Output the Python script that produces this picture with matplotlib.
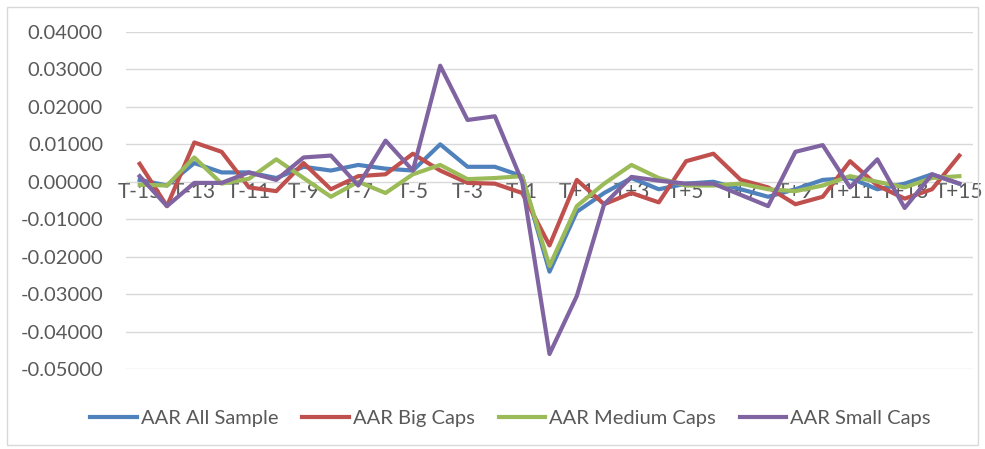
import matplotlib
matplotlib.use("Agg")
import matplotlib.pyplot as plt
from matplotlib.patches import Rectangle

labels = [f"T{i}" if i < 0 else ("T" if i == 0 else f"T+{i}") for i in range(-15, 16)]

all_sample = [0.0005, -0.0010, 0.0050, 0.0025, 0.0025, 0.0010, 0.0040, 0.0030, 0.0045, 0.0035,
              0.0030, 0.0100, 0.0040, 0.0040, 0.0015, -0.0240, -0.0080, -0.0030, 0.0010, -0.0020,
              -0.0005, 0.0000, -0.0020, -0.0040, -0.0020, 0.0005, 0.0010, -0.0020, -0.0005, 0.0020,
              -0.0005]
big_caps = [0.0048, -0.0065, 0.0105, 0.0080, -0.0015, -0.0025, 0.0050, -0.0020, 0.0015, 0.0020,
            0.0075, 0.0030, -0.0003, -0.0005, -0.0030, -0.0170, 0.0005, -0.0060, -0.0030, -0.0055,
            0.0055, 0.0075, 0.0005, -0.0015, -0.0060, -0.0040, 0.0055, -0.0010, -0.0045, -0.0020,
            0.0070]
medium_caps = [-0.0008, -0.0010, 0.0065, -0.0005, 0.0008, 0.0060, 0.0010, -0.0040, 0.0000, -0.0030,
               0.0020, 0.0045, 0.0007, 0.0010, 0.0015, -0.0225, -0.0065, -0.0005, 0.0045, 0.0010,
               -0.0010, -0.0010, -0.0005, -0.0020, -0.0025, -0.0010, 0.0015, 0.0000, -0.0015, 0.0010,
               0.0015]
small_caps = [0.0015, -0.0065, -0.0003, -0.0003, 0.0025, 0.0005, 0.0065, 0.0070, -0.0010, 0.0110,
              0.0030, 0.0310, 0.0165, 0.0175, 0.0000, -0.0460, -0.0305, -0.0060, 0.0013, 0.0003,
              -0.0005, -0.0005, -0.0035, -0.0065, 0.0080, 0.0098, -0.0015, 0.0060, -0.0070, 0.0020,
              -0.0005]

series_names = ["AAR All Sample", "AAR Big Caps", "AAR Medium Caps", "AAR Small Caps"]
series_colors = ["#4F81BD", "#C0504D", "#9BBB59", "#8064A2"]
yticks = [0.04, 0.03, 0.02, 0.01, 0.0, -0.01, -0.02, -0.03, -0.04, -0.05]

plt.rcParams['font.family'] = ['Lato', 'DejaVu Sans']

fig = plt.figure(figsize=(9.85, 4.49), dpi=100)
fig.patches.append(Rectangle((7/985, 4/449), 971/985, 438/449, transform=fig.transFigure,
                             fill=False, edgecolor="#d9d9d9", linewidth=1))
ax = fig.add_axes([126/985, 1 - 369/449, 847/985, 337/449])

x = list(range(len(labels)))
for vals, name, c in zip([all_sample, big_caps, medium_caps, small_caps], series_names, series_colors):
    ax.plot(x, vals, color=c, linewidth=3.0, label=name)

ax.set_xlim(-0.5, len(labels) - 0.5)
ax.set_ylim(-0.05, 0.04)
ax.set_yticks(yticks)
ax.set_yticklabels([f"{v:.5f}" for v in yticks])
ax.yaxis.grid(True, color="#d9d9d9", linewidth=1)
ax.set_axisbelow(True)
ax.set_xticks(x[::2])
ax.set_xticklabels(labels[::2])
for s in ["top", "right", "left"]:
    ax.spines[s].set_visible(False)
ax.spines["bottom"].set_position(("data", 0))
ax.spines["bottom"].set_visible(False)
ax.tick_params(axis="both", length=0, colors="#595959")
ax.tick_params(axis="y", pad=16.5, labelsize=14.5)
ax.tick_params(axis="x", pad=0, labelsize=15)

ax.legend(loc="upper center", bbox_to_anchor=(0.5 - 39/847, -0.068), ncol=4, frameon=False,
          fontsize=14.5, labelcolor="#595959", handlelength=2.3, handletextpad=0.2,
          columnspacing=1.2)

fig.savefig("out.png", dpi=100)
